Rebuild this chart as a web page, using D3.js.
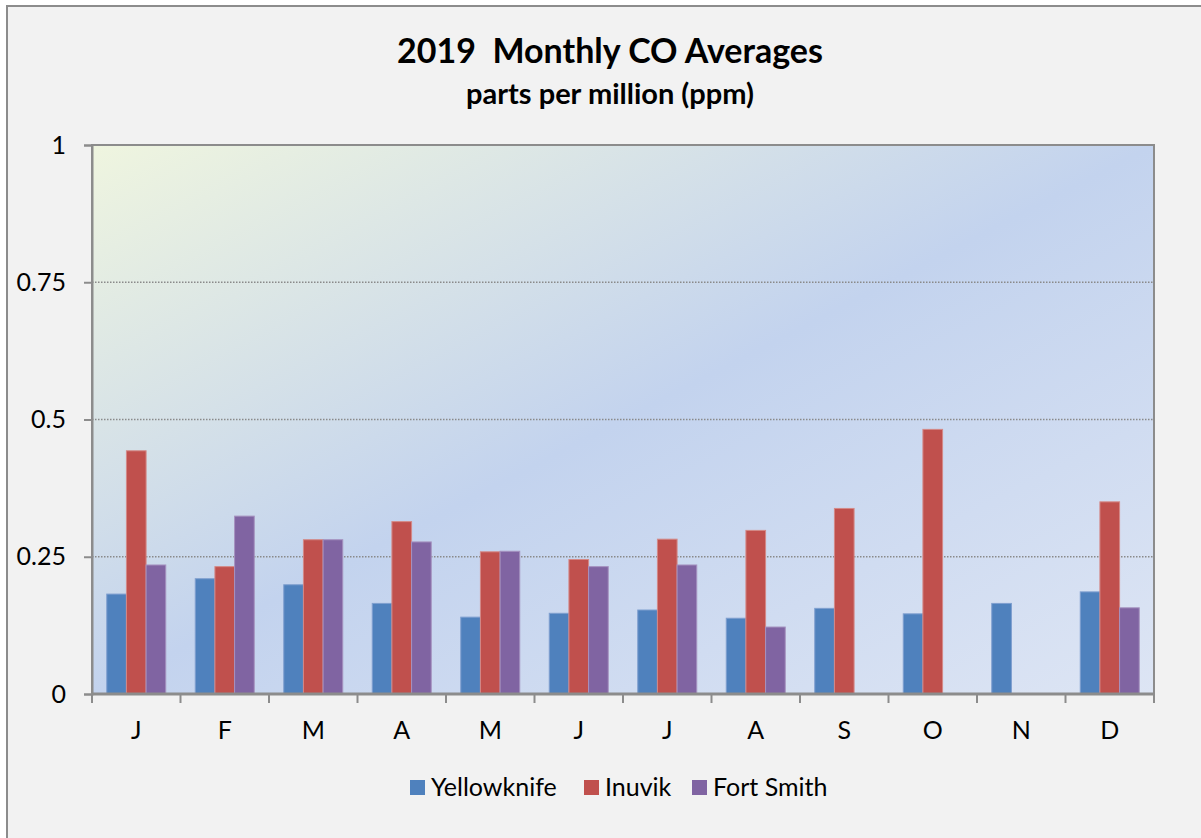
<!DOCTYPE html>
<html>
<head>
<meta charset="utf-8">
<script src="https://cdn.jsdelivr.net/npm/d3@7"></script>
<style>
  body { margin: 0; background: #fff; }
  svg { display: block; font-family: Lato, "Open Sans", sans-serif; }
</style>
</head>
<body>
<div id="chart"></div>
<script>
// data
var months = ["J", "F", "M", "A", "M", "J", "J", "A", "S", "O", "N", "D"];
var stations = ["Yellowknife", "Inuvik", "Fort Smith"];
var yellowknife = [0.182, 0.210, 0.199, 0.165, 0.140, 0.147, 0.153, 0.138, 0.156, 0.146, 0.165, 0.186];
var inuvik = [0.443, 0.232, 0.281, 0.314, 0.259, 0.245, 0.282, 0.298, 0.338, 0.482, null, 0.350];
var fortSmith = [0.235, 0.324, 0.281, 0.277, 0.260, 0.232, 0.235, 0.122, null, null, null, 0.157];
var yTicks = [0, 0.25, 0.5, 0.75, 1];
var colours = ["#4f81bd", "#c0504d", "#8064a2"];
var strokes = ["#7f9fcf", "#d48986", "#a592bf"];

var W = 1201, H = 838;
var margin = {top: 145, right: 47, bottom: 144, left: 92};
var width = W - margin.left - margin.right,
    height = H - margin.top - margin.bottom;

var svg = d3.select("#chart").append("svg")
  .attr("width", W).attr("height", H);

// outer chart frame
svg.append("rect")
  .attr("x", 7).attr("y", 6).attr("width", W + 20).attr("height", H + 20)
  .attr("fill", "#f2f2f2").attr("stroke", "#8c8c8c").attr("stroke-width", 2);

var defs = svg.append("defs");
var grad = defs.append("linearGradient").attr("id", "plotbg")
  .attr("x1", "0%").attr("y1", "0%").attr("x2", "100%").attr("y2", "100%");
grad.append("stop").attr("offset", "0%").attr("stop-color", "#eff5df");
grad.append("stop").attr("offset", "50%").attr("stop-color", "#c3d3ee");
grad.append("stop").attr("offset", "100%").attr("stop-color", "#dde5f4");

var g = svg.append("g")
  .attr("transform", "translate(" + margin.left + "," + margin.top + ")");

g.append("rect")
  .attr("width", width).attr("height", height)
  .attr("fill", "url(#plotbg)")
  .attr("stroke", "#8c8c8c").attr("stroke-width", 2);

var y = d3.scaleLinear().domain([0, 1]).range([height, 0]);

var x0 = d3.scaleBand()
  .domain(d3.range(months.length))
  .range([0, width])
  .paddingInner(1 / 3).paddingOuter(1 / 6);

var x1 = d3.scaleBand()
  .domain(d3.range(stations.length))
  .range([0, x0.bandwidth()]);

// dotted gridlines
g.append("g").selectAll("line")
  .data(yTicks.filter(function(d) { return d > 0 && d < 1; }))
  .enter().append("line")
  .attr("x1", 0).attr("x2", width)
  .attr("y1", function(d) { return y(d); })
  .attr("y2", function(d) { return y(d); })
  .attr("stroke", "#8a8a8a").attr("stroke-width", 1.5)
  .attr("stroke-dasharray", "1.5,1.5");

var series = [yellowknife, inuvik, fortSmith];
var rows = [];
series.forEach(function(vals, s) {
  vals.forEach(function(v, m) {
    if (v != null) rows.push({s: s, m: m, value: v});
  });
});

g.append("g").selectAll("rect")
  .data(rows)
  .enter().append("rect")
  .attr("x", function(d) { return x0(d.m) + x1(d.s); })
  .attr("width", x1.bandwidth())
  .attr("y", function(d) { return y(d.value); })
  .attr("height", function(d) { return height - y(d.value); })
  .attr("fill", function(d) { return colours[d.s]; })
  .attr("stroke", function(d) { return strokes[d.s]; })
  .attr("stroke-width", 1);

// y axis
var yAxis = g.append("g")
  .call(d3.axisLeft(y).tickValues(yTicks).tickSize(8).tickPadding(18)
    .tickFormat(function(d) { return d3.format("")(d); }));
yAxis.select(".domain").attr("stroke", "#8c8c8c").attr("stroke-width", 2);
yAxis.selectAll(".tick line").attr("stroke", "#8c8c8c").attr("stroke-width", 2);
yAxis.selectAll("text").attr("font-size", 25).attr("fill", "#000")
  .attr("font-family", "Lato, 'Open Sans', sans-serif");

// x axis: ticks at category boundaries
var step = x0.step();
var xAxis = g.append("g").attr("transform", "translate(0," + height + ")");
xAxis.append("line").attr("x1", 0).attr("x2", width)
  .attr("stroke", "#8c8c8c").attr("stroke-width", 3);
xAxis.selectAll(".tk")
  .data(d3.range(months.length + 1))
  .enter().append("line")
  .attr("x1", function(d) { return d * step; })
  .attr("x2", function(d) { return d * step; })
  .attr("y1", 0).attr("y2", 9)
  .attr("stroke", "#8c8c8c").attr("stroke-width", 2);
xAxis.selectAll("text")
  .data(months)
  .enter().append("text")
  .attr("x", function(d, i) { return x0(i) + x0.bandwidth() / 2; })
  .attr("y", 45)
  .attr("text-anchor", "middle")
  .attr("font-size", 25)
  .text(function(d) { return d; });

// titles
svg.append("text")
  .attr("x", 610).attr("y", 63)
  .attr("text-anchor", "middle")
  .attr("font-size", 34).attr("font-weight", "bold")
  .style("white-space", "pre")
  .text("2019  Monthly CO Averages");
svg.append("text")
  .attr("x", 610).attr("y", 104)
  .attr("text-anchor", "middle")
  .attr("font-size", 29).attr("font-weight", "bold")
  .text("parts per million (ppm)");

// legend
var legendX = [410, 584, 692];
var legend = svg.append("g").selectAll("g")
  .data(stations)
  .enter().append("g")
  .attr("transform", function(d, i) { return "translate(" + legendX[i] + ",780)"; });
legend.append("rect")
  .attr("width", 15).attr("height", 15)
  .attr("fill", function(d, i) { return colours[i]; });
legend.append("text")
  .attr("x", 21).attr("y", 15.5)
  .attr("font-size", 25)
  .text(function(d) { return d; });
</script>
</body>
</html>
